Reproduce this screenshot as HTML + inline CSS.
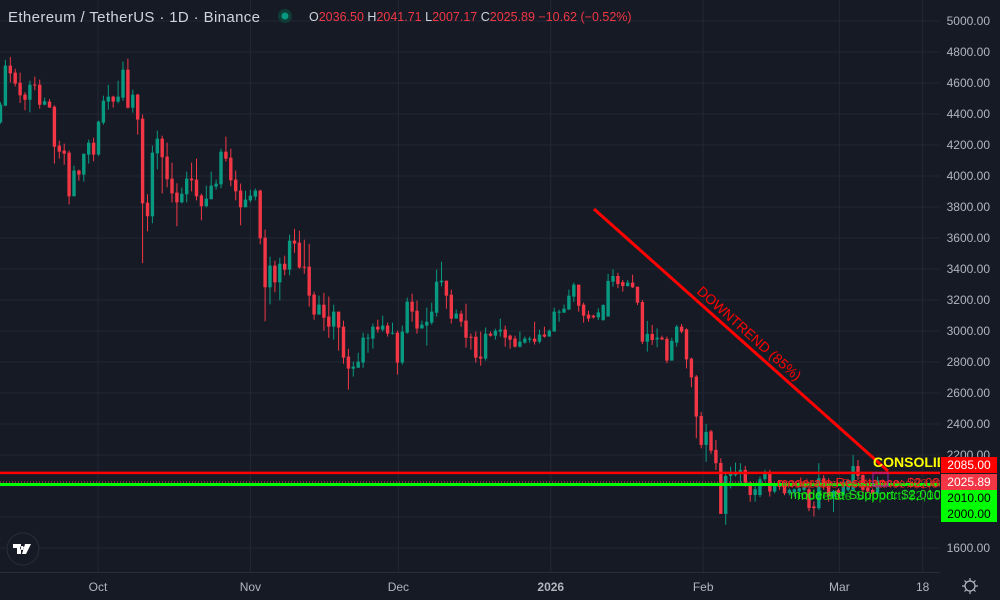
<!DOCTYPE html>
<html><head><meta charset="utf-8">
<style>
html,body{margin:0;padding:0;background:#161a25;width:1000px;height:600px;overflow:hidden;font-family:"Liberation Sans",sans-serif}
#wrap{position:relative;width:1000px;height:600px}
svg{position:absolute;left:0;top:0}
</style></head>
<body><div id="wrap">
<svg id="chart" width="1000" height="600"></svg>
</div>
<script>
const opens=[4346,4454,4712,4667,4602,4525,4492,4590,4589,4460,4480,4447,4196,4164,4151,3869,4035,4009,4138,4215,4138,4344,4480,4512,4480,4505,4686,4441,4525,4370,3828,3740,4146,4241,4125,3983,3893,3830,3882,3983,3977,3875,3805,3850,3931,3946,4157,4118,3977,3906,3798,3843,3867,3906,3602,
3282,3422,3314,3434,3396,3583,3570,3415,3415,3235,3106,3170,3093,3028,3125,3028,2835,2757,2763,2796,2951,2951,3028,3009,3035,2983,2989,2796,2989,3189,3131,3016,3035,3054,3118,3314,3325,3234,3080,3112,3067,2963,2963,2835,2822,2983,2970,2996,3009,2970,2951,2899,2925,2944,2951,2931,2977,2964,2996,3118,3118,3138,3222,3299,3170,3106,
3099,3088,3071,3093,3318,3355,3316,3290,3312,3286,3187,2931,2981,2946,2957,2949,2809,2925,3028,3011,2822,2706,2452,2265,2353,2233,2149,1820,2065,2070,2082,2104,2022,1942,1942,2044,2082,1964,2018,2013,1953,1960,1964,1975,1979,1868,1857,2050,2022,1932,1975,1943,1975,1975,2129,2071,1990,1975,1950,2036.5];
const highs=[4477,4750,4768,4692,4667,4540,4615,4641,4622,4505,4497,4456,4228,4209,4164,4067,4041,4144,4235,4247,4357,4518,4589,4518,4615,4738,4757,4557,4531,4396,3882,4196,4293,4260,4215,4086,3953,3925,4028,4086,4112,3886,3938,4028,3977,4176,4254,4176,4035,3951,3906,3912,3919,3912,3654,
3480,3454,3473,3486,3622,3660,3647,3589,3563,3254,3228,3247,3222,3170,3125,3067,2886,2802,2860,2989,2983,3048,3073,3099,3054,3054,3002,3035,3215,3241,3196,3067,3151,3183,3396,3447,3325,3267,3138,3131,3176,2983,2996,2996,3022,2996,3015,3080,3035,2977,2970,2996,2964,2964,3060,3009,3028,3009,3151,3138,3170,3267,3312,3299,3183,3131,
3106,3146,3172,3368,3398,3376,3329,3329,3363,3286,3200,3065,3039,3017,2970,2964,2957,3039,3045,3017,2828,2716,2478,2400,2362,2297,2179,2093,2125,2151,2147,2130,2028,2007,2061,2104,2104,2018,2039,2028,1985,1985,1990,2005,1996,1900,2147,2071,2050,1975,1985,2039,2045,2200,2168,2075,2010,1985,2060,2041.71];
const lows=[4338,4450,4604,4578,4471,4424,4411,4553,4434,4456,4441,4080,4112,4073,3817,3869,3970,3964,4080,4095,4131,4331,4428,4441,4469,4486,4435,4409,4267,3437,3643,3695,4043,3888,3927,3830,3676,3824,3830,3901,3843,3714,3798,3850,3912,3921,4093,3934,3843,3682,3798,3830,3843,3559,3063,
3172,3250,3198,3359,3359,3505,3402,3370,3157,3073,3106,3002,2956,2944,2873,2789,2622,2706,2763,2763,2860,2886,2989,2996,2964,2977,2719,2783,2983,3060,2983,3016,2906,3041,3093,3289,3144,3048,3080,3028,2893,2880,2796,2776,2809,2964,2945,2964,2899,2886,2893,2893,2919,2925,2912,2919,2957,2964,2996,3060,3118,3138,3187,3125,3054,3060,
3080,3071,3065,3093,3286,3277,3254,3286,3277,3168,2916,2867,2910,2895,2940,2792,2809,2899,2985,2759,2637,2308,2243,2157,2207,2104,1820,1749,1985,2061,2018,1996,1899,1899,1928,2033,1932,1953,1975,1940,1940,1932,1955,1965,1838,1804,1846,1975,1899,1833,1910,1932,1964,1964,2039,1953,1955,1940,1940,2007.17];
const closes=[4460,4712,4662,4596,4520,4492,4589,4586,4460,4482,4441,4189,4157,4144,3869,4035,4009,4144,4215,4138,4351,4486,4512,4480,4512,4686,4441,4525,4364,3824,3740,4151,4241,4121,3979,3888,3830,3886,3983,3972,3869,3805,3854,3938,3951,4157,4112,3972,3901,3798,3848,3873,3906,3598,3282,
3422,3314,3434,3396,3583,3564,3409,3409,3228,3106,3170,3086,3028,3125,3022,2828,2757,2770,2802,2957,2957,3028,3009,3035,2983,2989,2796,2996,3189,3125,3016,3041,3060,3125,3318,3325,3228,3080,3112,3060,2957,2957,2828,2822,2983,2970,3002,3009,2957,2944,2899,2931,2951,2951,2931,2977,2964,3002,3125,3125,3144,3228,3299,3163,3099,3080,
3088,3120,3168,3323,3355,3303,3290,3312,3282,3183,2931,2981,2942,2957,2946,2809,2936,3028,2996,2817,2701,2448,2265,2349,2228,2147,1820,2065,2082,2088,2104,2022,1942,1979,2044,2082,1964,2001,1996,1953,1975,1979,1985,1996,1857,1857,2050,2018,1932,1968,1943,2028,2039,2129,2065,1975,1965,1950,2036,2025.89];
const priceTicks=[5000,4800,4600,4400,4200,4000,3800,3600,3400,3200,3000,2800,2600,2400,2200,2000,1800,1600];
const timeLabels=["Oct","Nov","Dec","2026","Feb","Mar","18"];
const timeIdx=[19.9,51,81.2,112.3,143.4,171.2,188.2];

const NS="http://www.w3.org/2000/svg";
const svg=document.getElementById('chart');
const PW=940, PB=572;
function y(p){return 21+(5000-p)*527/3400;}
function x(i){return 0.5+4.9*i;}
function mk(tag,attrs,parent){const e=document.createElementNS(NS,tag);for(const k in attrs)e.setAttribute(k,attrs[k]);(parent||svg).appendChild(e);return e;}

const grid=mk('g',{});


priceTicks.forEach(p=>{const l=mk('line',{x1:0,x2:PW,y1:y(p),y2:y(p),stroke:'#232733','stroke-width':1},grid);

});
timeIdx.forEach(t=>{const l=mk('line',{x1:x(t),x2:x(t),y1:0,y2:PB,stroke:'#232733','stroke-width':1},grid);

});

const cg=mk('g',{});


for(let i=0;i<opens.length;i++){
  const up=closes[i]>=opens[i];const col=up?'#089981':'#f23645';
  const g=mk('g',{},cg);
  
  
  const cx=x(i);
  mk('line',{x1:cx,x2:cx,y1:y(highs[i]),y2:y(lows[i]),stroke:col,'stroke-width':1},g);
  const t=y(Math.max(opens[i],closes[i])),b=y(Math.min(opens[i],closes[i]));
  mk('rect',{x:cx-1.7,y:t,width:3.4,height:Math.max(1,b-t),fill:col},g);
}

function line(a,name){const l=mk('line',a);return l;}
line({x1:0,x2:PW,y1:y(2085),y2:y(2085),stroke:'#ff0000','stroke-width':2.5},'resistance-line');
line({x1:0,x2:PW,y1:y(2010),y2:y(2010),stroke:'#00ff00','stroke-width':3},'support-line');
line({x1:0,x2:PW,y1:y(2025.89),y2:y(2025.89),stroke:'#f23645','stroke-width':1,'stroke-dasharray':'1 2'},'current-price-line');
line({x1:594,y1:209,x2:888,y2:471,stroke:'#ff0000','stroke-width':3},'downtrend-line');
function text(s,a,name){const t=mk('text',a);t.textContent=s;return t;}
text('DOWNTREND (85%)',{x:0,y:0,fill:'#ff0000','font-size':14,'text-anchor':'middle',transform:'translate(746,337) rotate(41.7)'},'downtrend-label');
const clip=mk('clipPath',{id:'pc'});mk('rect',{x:0,y:0,width:PW,height:PB},clip);
const og=mk('g',{'clip-path':'url(#pc)'});
const t1=text('moderate Resistance: $2,085',{x:777,y:487,fill:'#ff2020','font-size':13},'resistance-label');og.appendChild(t1);
const t1b=text('moderate Resistance: $2,085',{x:783,y:488,fill:'#e02020','font-size':13,'opacity':0.7},'resistance-label-dup');og.appendChild(t1b);
const t2=text('moderate Support: $2,010',{x:790,y:499,fill:'#22dd22','font-size':13},'support-label');og.appendChild(t2);
const t2b=text('moderate Support: $2,000',{x:797,y:500,fill:'#00ff00','font-size':13,'opacity':0.7},'support-label-dup');og.appendChild(t2b);
const t3=text('CONSOLIDATION',{x:873,y:467,fill:'#ffff00','font-size':14,'font-weight':'bold'},'consolidation-label');og.appendChild(t3);
const box=mk('rect',{x:873,y:473,width:15,height:13,fill:'none',stroke:'#9c27b0','stroke-width':1},og);



mk('line',{x1:0,x2:PW,y1:PB+0.5,y2:PB+0.5,stroke:'#2a2e39'});
priceTicks.forEach(p=>{text(p.toFixed(2),{x:990,y:y(p)+4,fill:'#b2b5be','font-size':12,'text-anchor':'end'},'price-tick');});
timeLabels.forEach((s,k)=>{text(s,{x:x(timeIdx[k]),y:591,fill:'#b2b5be','font-size':12,'text-anchor':'middle','font-weight':s==='2026'?'bold':'normal'},'time-tick');});
function tag(p,label,bg,fg,yy,name){const g=mk('g',{});
 mk('rect',{x:941,y:yy,width:56,height:16,fill:bg},g);
 const t=mk('text',{x:969,y:yy+12,fill:fg,'font-size':12,'text-anchor':'middle'},g);t.textContent=label;}
tag(2085,'2085.00','#ff0000','#ffffff',457,'resistance-price-tag');
tag(2025.89,'2025.89','#f23645','#ffffff',474,'last-price-tag');
tag(2010,'2010.00','#00ff00','#000000',490,'support-price-tag');
tag(2000,'2000.00','#00ff00','#000000',506,'support2-price-tag');
</script>
<svg width="1000" height="600" style="pointer-events:none">
<g>
<text x="8" y="22" fill="#d1d4dc" font-size="15" textLength="252" lengthAdjust="spacing" font-family="Liberation Sans">Ethereum / TetherUS · 1D · Binance</text>
<circle cx="285" cy="16" r="7" fill="#0f3d36"/>
<circle cx="285" cy="16" r="3.5" fill="#089981"/>
<text x="309" y="21" font-size="12.5" font-family="Liberation Sans"><tspan fill="#d1d4dc">O</tspan><tspan fill="#f23645">2036.50 </tspan><tspan fill="#d1d4dc">H</tspan><tspan fill="#f23645">2041.71 </tspan><tspan fill="#d1d4dc">L</tspan><tspan fill="#f23645">2007.17 </tspan><tspan fill="#d1d4dc">C</tspan><tspan fill="#f23645">2025.89 −10.62 (−0.52%)</tspan></text>
</g>
<g>
<circle cx="23" cy="549" r="16" fill="#161a25" stroke="#2a2e39"/>
<path d="M13 544h8v10h-4v-6h-4z M22 546a2 2 0 1 0 0.1 0z M25 544h6l-5 10h-4z" fill="#ffffff"/>
</g>
<g>
<circle cx="970" cy="586" r="5" fill="none" stroke="#b2b5be" stroke-width="1.3"/>
<path d="M970 578v3M970 591v3M962 586h3M975 586h3M964.5 580.5l2 2M973.5 589.5l2 2M964.5 591.5l2-2M973.5 582.5l2-2" stroke="#b2b5be" stroke-width="1.2"/>
</g>
</svg>
</body></html>
